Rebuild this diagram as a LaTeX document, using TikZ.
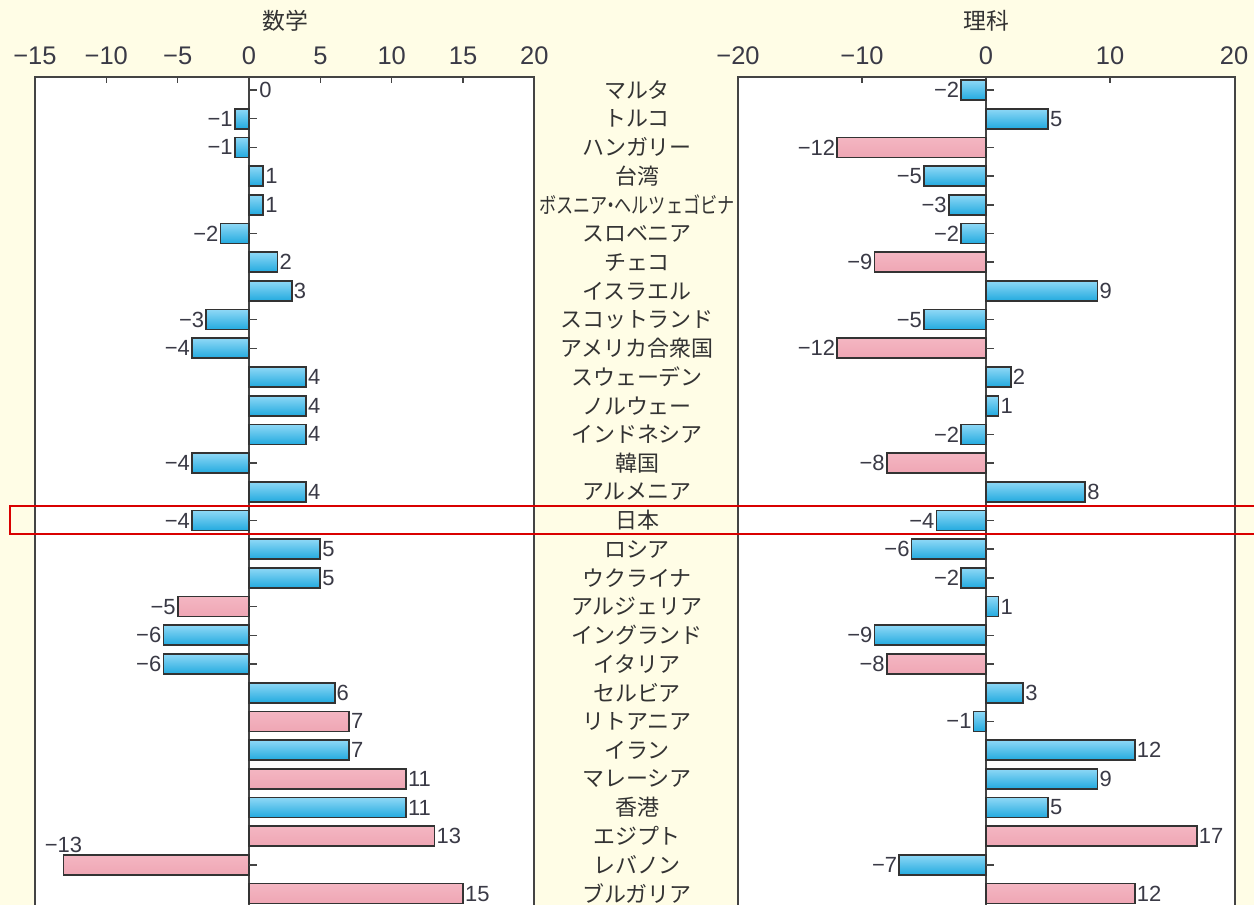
\documentclass[tikz,border=0pt]{standalone}
\usepackage{fontspec}
\setmainfont{Liberation Sans}
\newfontfamily\jpfont{Noto Sans CJK JP}
\usepackage{tikz}
\usepackage{xcolor}
\usepackage{graphicx}

\newcommand{\bosnia}{\scalebox{0.78}[1]{ボスニア\kern-0.3em・\kern-0.3emヘルツェゴビナ}}

\begin{document}
\begin{tikzpicture}[x=0.02cm,y=-0.02cm]
% Define colours
\definecolor{paper}{HTML}{FFFDE6}
\definecolor{frameline}{HTML}{444444}
\definecolor{barline}{HTML}{333333}
\definecolor{numtext}{HTML}{3A3A46}
\definecolor{blueT}{HTML}{8ED8F6}
\definecolor{blueM}{HTML}{C8EEFC}
\definecolor{blueB}{HTML}{22AADF}
\definecolor{pinkT}{HTML}{F4B6C2}
\definecolor{pinkM}{HTML}{FCE2E7}
\definecolor{pinkB}{HTML}{EFA6B4}
\tikzset{
  frame/.style={draw=frameline,line width=1.1pt,fill=white},
  zeroline/.style={draw=frameline,line width=0.9pt},
  tickmark/.style={draw=frameline,line width=0.8pt},
  blue bar/.style={draw=barline,line width=1pt,top color=blueT,middle color=blueM,bottom color=blueB},
  pink bar/.style={draw=barline,line width=1pt,top color=pinkT,middle color=pinkM,bottom color=pinkB},
  value/.style={font=\fontsize{12.5}{13}\selectfont,text=numtext,inner sep=1pt},
  axisnum/.style={font=\fontsize{14.5}{15}\selectfont,text=numtext,inner sep=0pt},
  country/.style={font=\jpfont\fontsize{12.5}{13}\selectfont,text=barline,inner sep=0pt},
  subject/.style={font=\jpfont\fontsize{13}{13}\selectfont,text=barline,inner sep=0pt},
  redbox/.style={draw=red!85!black,line width=0.7pt}
}
\clip (0,0) rectangle (1254,905);
\fill[paper] (0,0) rectangle (1254,905);

% Draw panels
\draw[frame] (35,77) rectangle (534,930);
\draw[frame] (738,77) rectangle (1235,930);
\draw[zeroline] (249,77) -- (249,930);
\draw[zeroline] (986,77) -- (986,930);

% Add axes
\node[subject] (math) at (285,21) {数学};
\node[subject] (sci) at (986,21) {理科};
\foreach \v in {-15,-10,-5,0,5,10,15,20} {
  \pgfmathsetmacro\tx{249+14.27*\v}
  \ifnum\v<0
    \node[axisnum] (mt\v) at (\tx,56) {−\the\numexpr-\v\relax};
  \else
    \node[axisnum] (mt\v) at (\tx,56) {\v};
  \fi
  \ifnum\v>-15 \ifnum\v<20
    \draw[tickmark] (\tx,77) -- ++(0,6);
  \fi\fi
}
\foreach \v in {-20,-10,0,10,20} {
  \pgfmathsetmacro\tx{986+12.4*\v}
  \ifnum\v<0
    \node[axisnum] (st\v) at (\tx,56) {−\the\numexpr-\v\relax};
  \else
    \node[axisnum] (st\v) at (\tx,56) {\v};
  \fi
  \ifnum\v>-20 \ifnum\v<20
    \draw[tickmark] (\tx,77) -- ++(0,6);
  \fi\fi
}

% Add countries and bars
\foreach \country/\m/\mc/\s/\sc [count=\i from 0] in {
  マルタ/0/blue/-2/blue,
  トルコ/-1/blue/5/blue,
  ハンガリー/-1/blue/-12/pink,
  台湾/1/blue/-5/blue,
  \bosnia/1/blue/-3/blue,
  スロベニア/-2/blue/-2/blue,
  チェコ/2/blue/-9/pink,
  イスラエル/3/blue/9/blue,
  スコットランド/-3/blue/-5/blue,
  アメリカ合衆国/-4/blue/-12/pink,
  スウェーデン/4/blue/2/blue,
  ノルウェー/4/blue/1/blue,
  インドネシア/4/blue/-2/blue,
  韓国/-4/blue/-8/pink,
  アルメニア/4/blue/8/blue,
  日本/-4/blue/-4/blue,
  ロシア/5/blue/-6/blue,
  ウクライナ/5/blue/-2/blue,
  アルジェリア/-5/pink/1/blue,
  イングランド/-6/blue/-9/blue,
  イタリア/-6/blue/-8/pink,
  セルビア/6/blue/3/blue,
  リトアニア/7/pink/-1/blue,
  イラン/7/blue/12/blue,
  マレーシア/11/pink/9/blue,
  香港/11/blue/5/blue,
  エジプト/13/pink/17/pink,
  レバノン/-13/pink/-7/blue,
  ブルガリア/15/pink/12/pink} {
  \pgfmathsetmacro\yy{90+28.7*\i}
  \node[country] (c\i) at (637,\yy) {\country};
  % math
  \pgfmathsetmacro\mx{249+14.27*\m}
  \ifnum\m=0
    \draw[tickmark] (249,\yy) -- ++(8,0) node[value,anchor=west] (m\i) {0};
  \else
    \draw[\mc\space bar] (249,\yy-10) rectangle (\mx,\yy+10);
    \ifnum\m<0
      \draw[tickmark] (249,\yy) -- ++(8,0);
      \ifnum\m<-12
        \node[value,anchor=south] (m\i) at (\mx,\yy-10) {−\the\numexpr-\m\relax};
      \else
        \node[value,anchor=east] (m\i) at (\mx,\yy) {−\the\numexpr-\m\relax};
      \fi
    \else
      \node[value,anchor=west] (m\i) at (\mx,\yy) {\m};
    \fi
  \fi
  % science
  \pgfmathsetmacro\sx{986+12.4*\s}
  \draw[\sc\space bar] (986,\yy-10) rectangle (\sx,\yy+10);
  \ifnum\s<0
    \draw[tickmark] (986,\yy) -- ++(8,0);
    \node[value,anchor=east] (s\i) at (\sx,\yy) {−\the\numexpr-\s\relax};
  \else
    \node[value,anchor=west] (s\i) at (\sx,\yy) {\s};
  \fi
}

% Highlight Japan
\draw[redbox] (10,506) rectangle (1275,534);
\end{tikzpicture}
\end{document}
